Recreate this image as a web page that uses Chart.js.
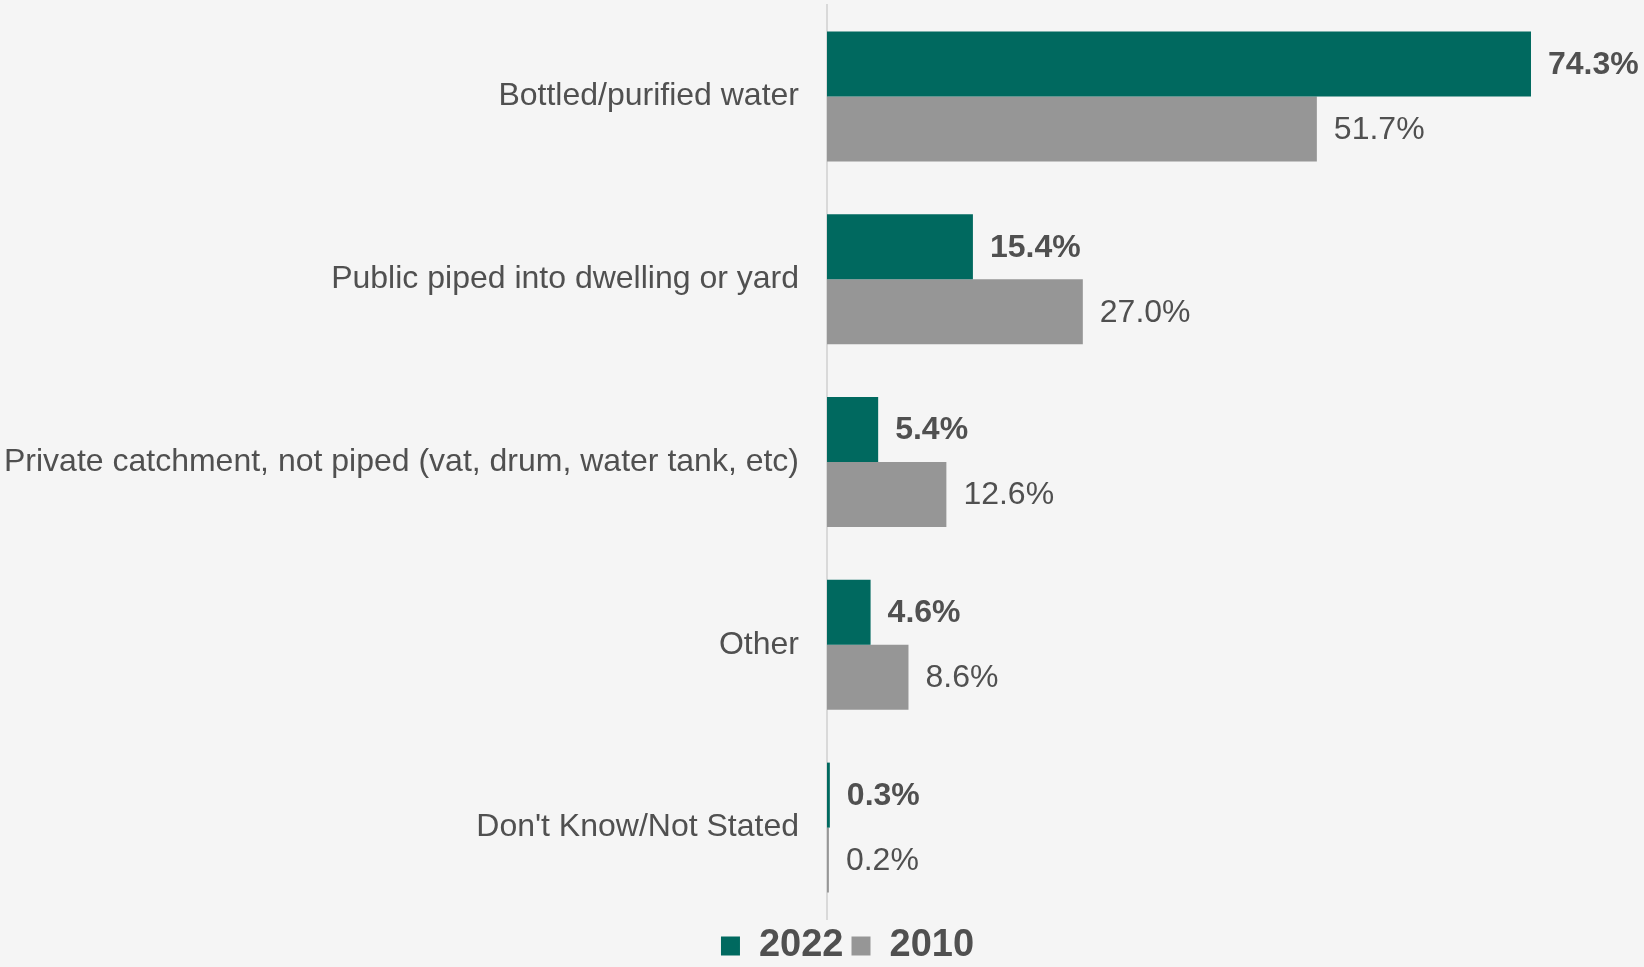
<!DOCTYPE html>
<html>
<head>
<meta charset="utf-8">
<title>Main source of drinking water</title>
<script src="https://cdn.jsdelivr.net/npm/chart.js@4/dist/chart.umd.min.js"></script>
<style>
  html, body { margin: 0; padding: 0; background: #f5f5f5; overflow: hidden; }
  .chart { position: relative; width: 1644px; height: 975px; }
</style>
</head>
<body>
<div class="chart">
  <canvas id="waterChart"></canvas>
</div>
<script>
const categories = [
  "Bottled/purified water",
  "Public piped into dwelling or yard",
  "Private catchment, not piped (vat, drum, water tank, etc)",
  "Other",
  "Don't Know/Not Stated",
];
const values2022 = [74.3, 15.4, 5.4, 4.6, 0.3];
const values2010 = [51.7, 27.0, 12.6, 8.6, 0.2];
const seriesLabels = ["2022", "2010"];

const FONT = "'Liberation Sans', Arial, sans-serif";
const TEXT = "#505050";

// draws the "74.3%" style labels at the end of each bar
const barLabels = {
  id: "barLabels",
  afterDatasetsDraw(chart) {
    const ctx = chart.ctx;
    ctx.save();
    ctx.fillStyle = TEXT;
    ctx.textAlign = "left";
    ctx.textBaseline = "middle";
    chart.data.datasets.forEach((ds, i) => {
      const meta = chart.getDatasetMeta(i);
      ctx.font = (i === 0 ? "bold " : "") + "32px " + FONT;
      meta.data.forEach((bar, j) => {
        ctx.fillText(ds.data[j].toFixed(1) + "%", bar.x + 17, bar.y + 1);
      });
    });
    ctx.restore();
  },
};

// legend in the original sits a bit right of where chart.js centres it
const legendShift = {
  id: "legendShift",
  afterLayout(chart) {
    if (chart.legend) {
      chart.legend.left += 55;
      chart.legend.right += 55;
    }
  },
};

const ctx = document.getElementById("waterChart").getContext("2d");
new Chart(ctx, {
  type: "bar",
  data: {
    labels: categories,
    datasets: [
      {
        label: seriesLabels[0],
        data: values2022,
        backgroundColor: "#00695f",
      },
      {
        label: seriesLabels[1],
        data: values2010,
        backgroundColor: "#969696",
      },
    ],
  },
  options: {
    indexAxis: "y",
    responsive: true,
    maintainAspectRatio: false,
    animation: false,
    layout: { padding: { top: 5, right: 59, left: 0, bottom: 0 } },
    datasets: {
      bar: { categoryPercentage: 0.711, barPercentage: 1.0, borderWidth: 0 },
    },
    scales: {
      x: {
        display: false,
        min: 0,
        max: 80,
      },
      y: {
        afterFit: (scale) => {
          scale.width = 827;
          // the tick padding should only push labels sideways
          scale.paddingTop = 0;
          scale.paddingBottom = 0;
        },
        grid: { display: false, drawTicks: false },
        border: { display: true, color: "#d9d9d9", width: 2 },
        ticks: {
          color: TEXT,
          padding: 28,
          font: { family: FONT, size: 32 },
        },
      },
    },
    plugins: {
      tooltip: { enabled: false },
      legend: {
        display: true,
        position: "bottom",
        labels: {
          color: TEXT,
          font: { family: FONT, size: 38, weight: "bold" },
          boxWidth: 19,
          boxHeight: 19,
          padding: 8,
        },
      },
    },
  },
  plugins: [barLabels, legendShift],
});
</script>
</body>
</html>
